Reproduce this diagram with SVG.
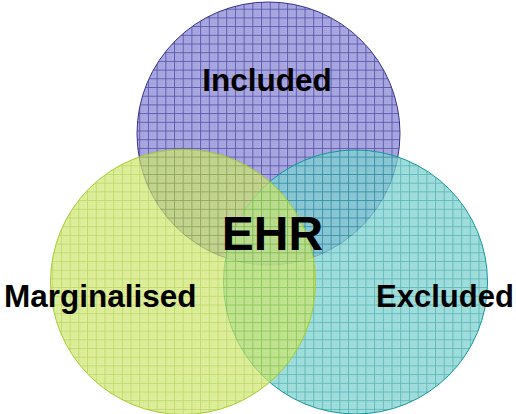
<svg xmlns="http://www.w3.org/2000/svg" width="516" height="414" viewBox="0 0 516 414">
  <defs>
    <!-- fine checker + grid fill for each set -->
    <pattern id="gridPurple" patternUnits="userSpaceOnUse" width="8.7" height="8.7">
      <rect width="8.7" height="8.7" fill="#acaae2"/>
      <path d="M0 0h1v1H0zM2 2h1v1H2zM4 4h1v1H4zM6 6h1v1H6zM2 0h1v1H2zM0 2h1v1H0zM4 0h1v1H4zM6 2h1v1H6zM6 0h1v1H6zM4 2h1v1H4zM2 4h1v1H2zM0 4h1v1H0zM0 6h1v1H0zM2 6h1v1H2zM4 6h1v1H4zM6 4h1v1H6z" fill="#9896d4"/>
      <path d="M0 0.5H8.7M0.5 0V8.7" stroke="#5d5ab0" stroke-width="1"/>
    </pattern>
    <pattern id="gridTeal" patternUnits="userSpaceOnUse" width="8.7" height="8.7">
      <rect width="8.7" height="8.7" fill="#84d4d2"/>
      <path d="M0 0h1v1H0zM2 2h1v1H2zM4 4h1v1H4zM6 6h1v1H6zM2 0h1v1H2zM0 2h1v1H0zM4 0h1v1H4zM6 2h1v1H6zM6 0h1v1H6zM4 2h1v1H4zM2 4h1v1H2zM0 4h1v1H0zM0 6h1v1H0zM2 6h1v1H2zM4 6h1v1H4zM6 4h1v1H6z" fill="#6cc6c4"/>
      <path d="M0 0.5H8.7M0.5 0V8.7" stroke="#2aa4a4" stroke-width="1"/>
    </pattern>
    <pattern id="gridGreen" patternUnits="userSpaceOnUse" width="8.7" height="8.7">
      <rect width="8.7" height="8.7" fill="#d2e874"/>
      <path d="M0 0h1v1H0zM2 2h1v1H2zM4 4h1v1H4zM6 6h1v1H6zM2 0h1v1H2zM0 2h1v1H0zM4 0h1v1H4zM6 2h1v1H6zM6 0h1v1H6zM4 2h1v1H4zM2 4h1v1H2zM0 4h1v1H0zM0 6h1v1H0zM2 6h1v1H2zM4 6h1v1H4zM6 4h1v1H6z" fill="#c0dc56"/>
      <path d="M0 0.5H8.7M0.5 0V8.7" stroke="#a2cc30" stroke-width="1"/>
    </pattern>
  </defs>
  <style>
    .set { stroke-width: 1; }
    .label { font-family: "Liberation Sans", Arial, sans-serif; font-weight: bold; fill: #000; font-size: 31.5px; }
  </style>

  <g id="included">
    <circle class="set" cx="268.5" cy="133.5" r="131.5" fill="url(#gridPurple)" stroke="#34318a"/>
  </g>
  <g id="excluded">
    <circle class="set" cx="355.5" cy="282" r="132" fill="url(#gridTeal)" stroke="#13979a" fill-opacity="0.75"/>
  </g>
  <g id="marginalised">
    <circle class="set" cx="183" cy="282" r="132.5" fill="url(#gridGreen)" stroke="#a4cc30" fill-opacity="0.7"/>
  </g>

  <g id="labels">
    <text class="label" x="267" y="91" text-anchor="middle">Included</text>
    <text class="label" x="272.5" y="250" text-anchor="middle" style="font-size:48px">EHR</text>
    <text class="label" x="4" y="307">Marginalised</text>
    <text class="label" x="376" y="307" style="font-size:31px">Excluded</text>
  </g>
</svg>
